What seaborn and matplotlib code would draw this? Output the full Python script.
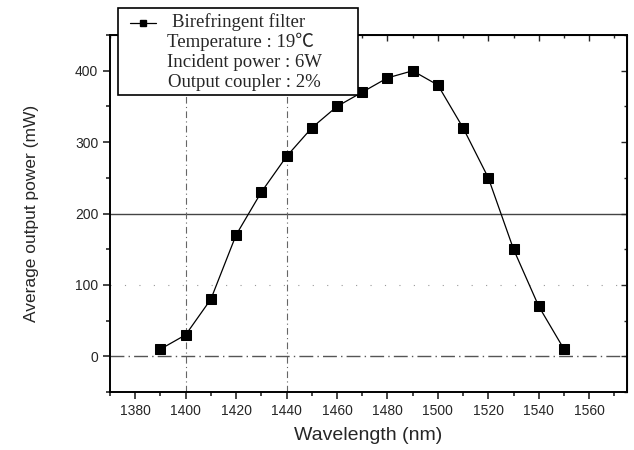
import matplotlib
matplotlib.use("Agg")
import matplotlib.pyplot as plt
from matplotlib.lines import Line2D
from matplotlib.patches import Rectangle
from matplotlib.ticker import MultipleLocator
import numpy as np
import pandas as pd
import seaborn as sns

# Tuning curve of the birefringent filter
wavelength_nm = [1390, 1400, 1410, 1420, 1430, 1440, 1450, 1460, 1470,
                 1480, 1490, 1500, 1510, 1520, 1530, 1540, 1550]
power_mw = [10, 30, 80, 170, 230, 280, 320, 350, 370,
            390, 400, 380, 320, 250, 150, 70, 10]

legend_lines = ["Birefringent filter",
                "Temperature : 19\u2103",
                "Incident power : 6W",
                "Output coupler : 2%"]
x_label = "Wavelength (nm)"
y_label = "Average output power (mW)"

sns.set_style("ticks")
plt.rcParams["font.family"] = ["Liberation Sans", "DejaVu Sans"]

df = pd.DataFrame({"wavelength": wavelength_nm, "power": power_mw})

W, H = 634, 450
fig = plt.figure(figsize=(W / 100, H / 100), dpi=100)
ax = fig.add_axes([0.1735, 0.129, 0.8155, 0.793])

# faint scanned-looking grid
ax.axhline(0, color="#555555", lw=1.0, ls=(0, (10, 3, 1, 3)), zorder=0)
ax.axhline(200, color="#444444", lw=1.0, ls="-", zorder=0)
ax.axhline(100, color="#999999", lw=0.8, ls=(0, (1, 12)), zorder=0)
for xv in (1400, 1440):
    ax.axvline(xv, color="#666666", lw=0.8, ls=(0, (6, 3, 1, 3)), zorder=0)

sns.lineplot(data=df, x="wavelength", y="power", ax=ax, color="black",
             lw=0.9, marker="s", markersize=6.5, markeredgecolor="black",
             markerfacecolor="black", legend=False)

ax.set_xlim(1370, 1575)
ax.set_ylim(-50, 450)
ax.xaxis.set_major_locator(MultipleLocator(20))
ax.xaxis.set_minor_locator(MultipleLocator(10))
ax.yaxis.set_major_locator(MultipleLocator(100))
ax.yaxis.set_minor_locator(MultipleLocator(50))

ax.tick_params(axis="both", which="both", direction="out", width=1.2,
               top=False, right=False)
ax.tick_params(axis="both", which="major", length=5, labelsize=10)
ax.tick_params(axis="both", which="minor", length=3)
for s in ax.spines.values():
    s.set_visible(True)
    s.set_linewidth(1.4)
    s.set_color("black")

# inward ticks on the top and right edges
ax_top = ax.secondary_xaxis("top")
ax_top.xaxis.set_major_locator(MultipleLocator(20))
ax_top.xaxis.set_minor_locator(MultipleLocator(10))
ax_top.tick_params(which="both", direction="in", labeltop=False, width=1.0)
ax_top.tick_params(which="major", length=4)
ax_top.tick_params(which="minor", length=2)
ax_right = ax.secondary_yaxis("right")
ax_right.yaxis.set_major_locator(MultipleLocator(100))
ax_right.yaxis.set_minor_locator(MultipleLocator(50))
ax_right.tick_params(which="both", direction="in", labelright=False, width=1.0)
ax_right.tick_params(which="major", length=4)
ax_right.tick_params(which="minor", length=2)

ax.set_xlabel(x_label, fontsize=14, labelpad=7)
ax.set_ylabel(y_label, fontsize=12.5, labelpad=26)


# legend box with the run conditions, laid out in figure pixels
def fx(px):
    return px / W


def fy(py):
    return 1 - py / H


fig.patches.append(Rectangle((fx(118), fy(95)), fx(358) - fx(118),
                             fy(8) - fy(95), transform=fig.transFigure,
                             facecolor="white", edgecolor="black", lw=1.2,
                             zorder=10))
fig.add_artist(Line2D([fx(130), fx(156)], [fy(23), fy(23)],
                      transform=fig.transFigure, color="black", lw=0.9,
                      zorder=11))
fig.add_artist(Line2D([fx(143)], [fy(23)], transform=fig.transFigure,
                      color="black", marker="s", markersize=5, zorder=11))
text_x = [172, 167, 167, 168]
text_y = [27, 47, 67, 87]
for label, tx, ty in zip(legend_lines, text_x, text_y):
    fig.text(fx(tx), fy(ty), label, ha="left", va="baseline", fontsize=13.5,
             family=["Liberation Serif", "Noto Sans CJK SC"], zorder=12)

fig.savefig("out.png", dpi=100)
